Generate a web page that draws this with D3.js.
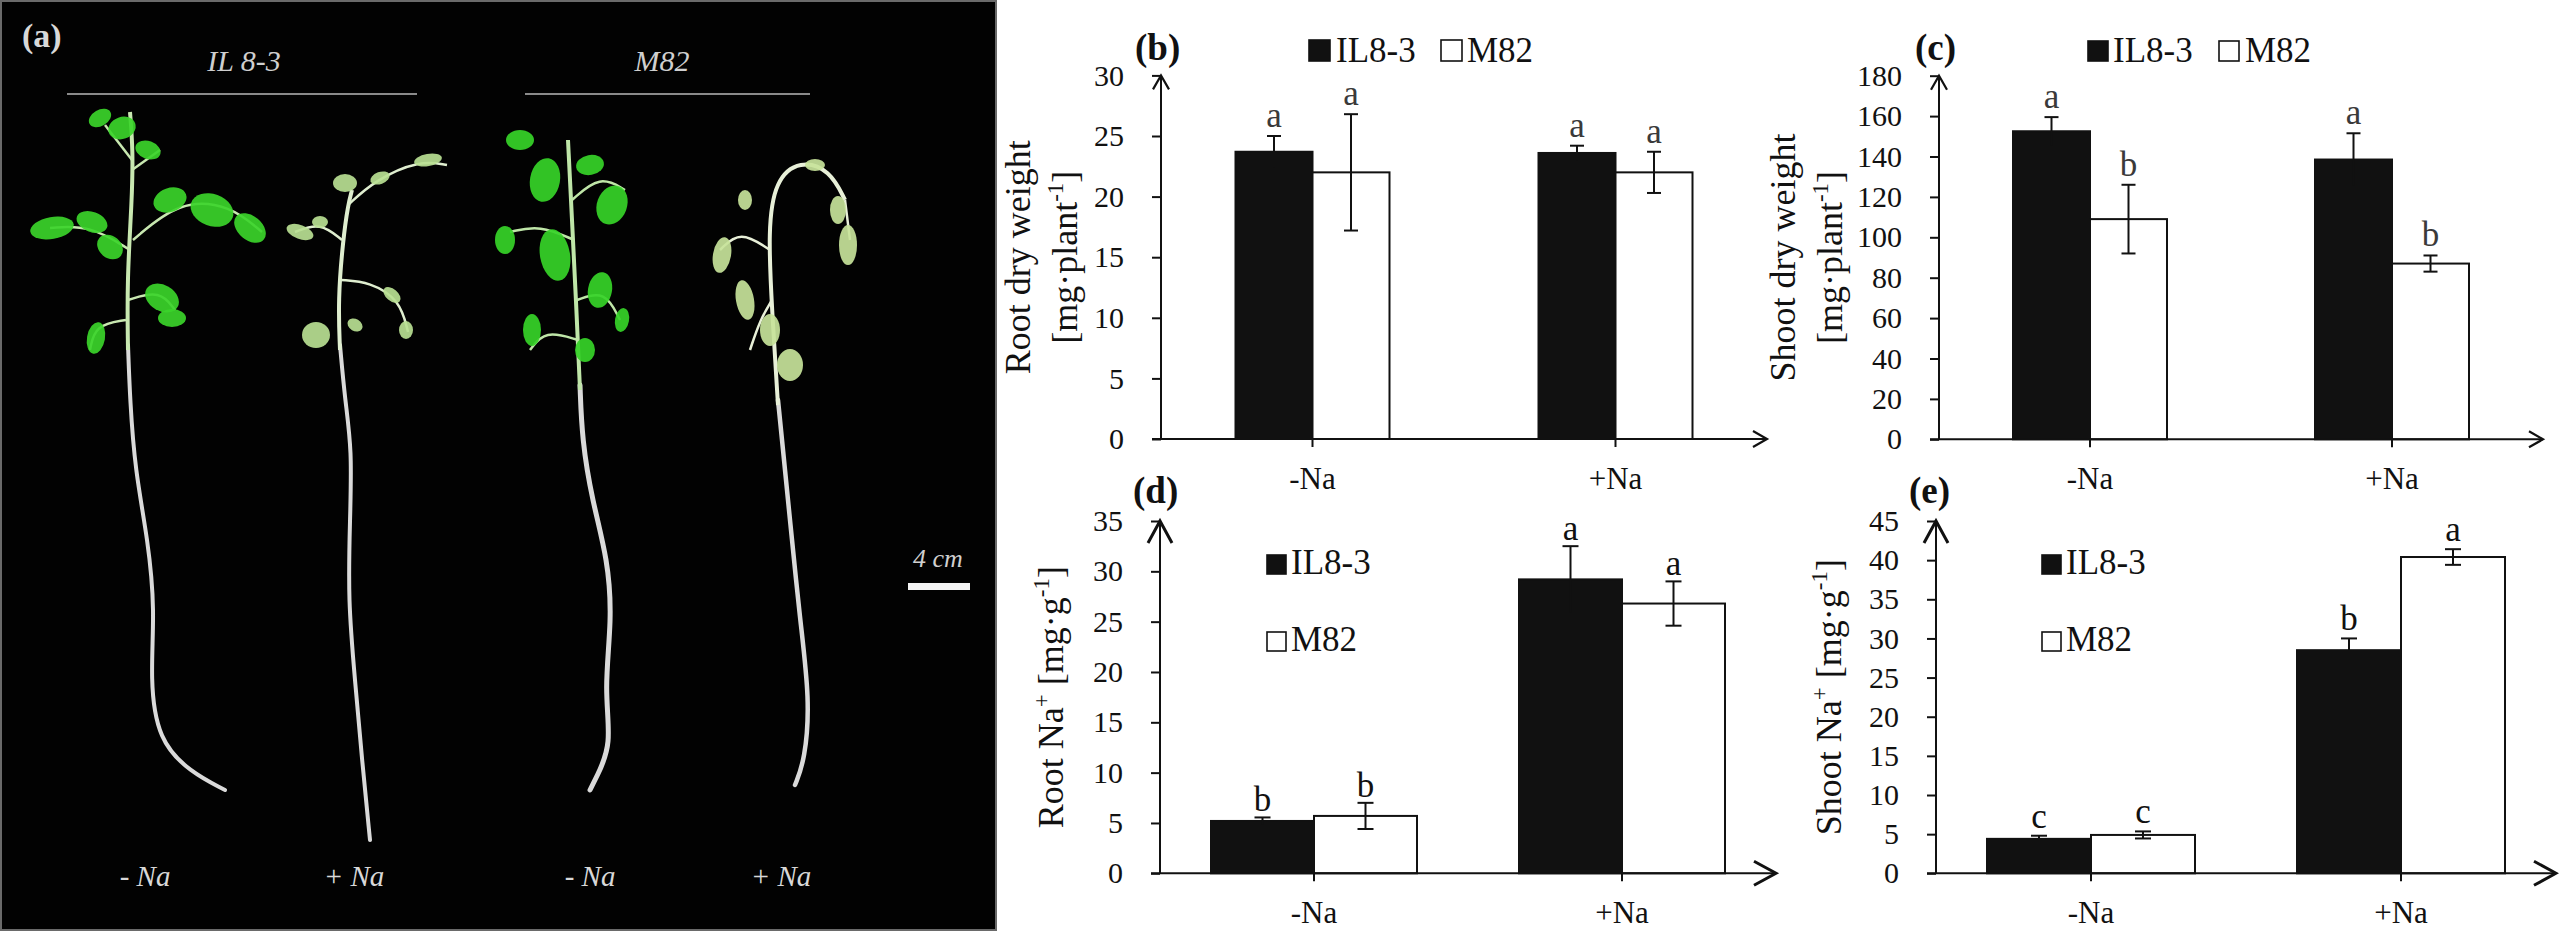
<!DOCTYPE html>
<html><head><meta charset="utf-8">
<script src="https://cdn.jsdelivr.net/npm/d3@7"></script>
<style>
body{margin:0;background:#fff;}
svg{display:block;}
text{font-family:"Liberation Serif","Times New Roman",serif;}
</style>
</head><body>
<svg id="chart" width="2559" height="931"></svg>
<script>
// ---------------- DATA ----------------
const categories = ["-Na", "+Na"];
const series = ["IL8-3", "M82"];

// (b) Root dry weight [mg·plant-1]
const rootDW_IL8_3 = [23.7, 23.6];
const rootDW_M82   = [22.0, 22.0];
const rootDW_err_IL8_3 = [1.3, 0.6];
const rootDW_err_M82   = [4.8, 1.7];
const rootDW_letters_IL8_3 = ["a", "a"];
const rootDW_letters_M82   = ["a", "a"];
const rootDW_ticks = [0, 5, 10, 15, 20, 25, 30];

// (c) Shoot dry weight [mg·plant-1]
const shootDW_IL8_3 = [152.5, 138.5];
const shootDW_M82   = [109, 87];
const shootDW_err_IL8_3 = [7, 13];
const shootDW_err_M82   = [17, 4];
const shootDW_letters_IL8_3 = ["a", "a"];
const shootDW_letters_M82   = ["b", "b"];
const shootDW_ticks = [0, 20, 40, 60, 80, 100, 120, 140, 160, 180];

// (d) Root Na+ [mg·g-1]
const rootNa_IL8_3 = [5.2, 29.2];
const rootNa_M82   = [5.7, 26.8];
const rootNa_err_IL8_3 = [0.35, 3.3];
const rootNa_err_M82   = [1.3, 2.2];
const rootNa_letters_IL8_3 = ["b", "a"];
const rootNa_letters_M82   = ["b", "a"];
const rootNa_ticks = [0, 5, 10, 15, 20, 25, 30, 35];

// (e) Shoot Na+ [mg·g-1]
const shootNa_IL8_3 = [4.4, 28.5];
const shootNa_M82   = [4.9, 40.4];
const shootNa_err_IL8_3 = [0.4, 1.5];
const shootNa_err_M82   = [0.45, 1.0];
const shootNa_letters_IL8_3 = ["c", "b"];
const shootNa_letters_M82   = ["c", "a"];
const shootNa_ticks = [0, 5, 10, 15, 20, 25, 30, 35, 40, 45];

// photo panel labels
const photoGroups = ["IL 8-3", "M82"];
const photoTreatments = ["- Na", "+ Na", "- Na", "+ Na"];
const scaleBarLabel = "4 cm";

// ---------------- LAYOUT ----------------
const svg = d3.select("#chart");
const INK = "#111";
const SERIF = '"Liberation Serif","Times New Roman",serif';

const panels = [
  { label: "(b)", labelX: 1135, labelY: 60,
    vals: [rootDW_IL8_3, rootDW_M82], errs: [rootDW_err_IL8_3, rootDW_err_M82],
    letters: [rootDW_letters_IL8_3, rootDW_letters_M82], ticks: rootDW_ticks,
    xr: [1161, 1767], yr: [439, 75.4], barW: 77, cap: 7, letterGap: 9, letterColor: "#3a3a3a",
    arrowLen: 14, arrowHW: 8, arrowW: 2.2,
    title: [[["Root dry weight"]], [["[mg·plant"], ["-1", true], ["]"]]], titleX: [1030, 1077],
    legend: { mode: "row", x: [1309, 1441], tx: [1336, 1467], y: 40, ty: 62, size: 21 } },
  { label: "(c)", labelX: 1915, labelY: 60,
    vals: [shootDW_IL8_3, shootDW_M82], errs: [shootDW_err_IL8_3, shootDW_err_M82],
    letters: [shootDW_letters_IL8_3, shootDW_letters_M82], ticks: shootDW_ticks,
    xr: [1939, 2543], yr: [439.3, 75.7], barW: 77, cap: 7, letterGap: 9, letterColor: "#3a3a3a",
    arrowLen: 14, arrowHW: 8, arrowW: 2.2,
    title: [[["Shoot dry weight"]], [["[mg·plant"], ["-1", true], ["]"]]], titleX: [1795, 1842],
    legend: { mode: "row", x: [2088, 2219], tx: [2113, 2245], y: 41, ty: 62, size: 20 } },
  { label: "(d)", labelX: 1133, labelY: 503,
    vals: [rootNa_IL8_3, rootNa_M82], errs: [rootNa_err_IL8_3, rootNa_err_M82],
    letters: [rootNa_letters_IL8_3, rootNa_letters_M82], ticks: rootNa_ticks,
    xr: [1160, 1776], yr: [873.3, 521], barW: 103, cap: 8, letterGap: 6, letterColor: INK,
    arrowLen: 22, arrowHW: 12, arrowW: 3,
    title: [[["Root Na"], ["+", true], [" [mg·g"], ["-1", true], ["]"]]], titleX: [1063],
    legend: { mode: "col", x: [1267, 1267], tx: [1291, 1291], y: [555, 632], ty: [574, 651], size: 19 } },
  { label: "(e)", labelX: 1909, labelY: 503,
    vals: [shootNa_IL8_3, shootNa_M82], errs: [shootNa_err_IL8_3, shootNa_err_M82],
    letters: [shootNa_letters_IL8_3, shootNa_letters_M82], ticks: shootNa_ticks,
    xr: [1936, 2556], yr: [873.3, 521], barW: 104, cap: 8, letterGap: 8, letterColor: INK,
    arrowLen: 22, arrowHW: 12, arrowW: 3,
    title: [[["Shoot Na"], ["+", true], [" [mg·g"], ["-1", true], ["]"]]], titleX: [1841],
    legend: { mode: "col", x: [2042, 2042], tx: [2066, 2066], y: [555, 632], ty: [574, 651], size: 19 } }
];

function drawPanel(p) {
  const g = svg.append("g");
  const x0 = d3.scaleBand().domain(categories).range(p.xr).padding(0);
  const x1 = d3.scaleBand().domain(series).range([-p.barW, p.barW]).padding(0);
  const ymax = p.ticks[p.ticks.length - 1];
  const y = d3.scaleLinear().domain([0, ymax]).range(p.yr);
  const axX = p.xr[0], y0 = y(0);

  const rows = [];
  series.forEach((s, si) => categories.forEach((c, ci) => {
    rows.push({ s, c, v: p.vals[si][ci], e: p.errs[si][ci], L: p.letters[si][ci], si });
  }));

  // bars
  g.selectAll("rect.bar").data(rows).join("rect")
    .attr("x", d => x0(d.c) + x0.bandwidth() / 2 + x1(d.s))
    .attr("y", d => y(d.v))
    .attr("width", x1.bandwidth())
    .attr("height", d => y0 - y(d.v))
    .attr("fill", d => d.si === 0 ? INK : "#fff")
    .attr("stroke", INK).attr("stroke-width", 2);

  // error bars
  const cx = d => x0(d.c) + x0.bandwidth() / 2 + x1(d.s) + x1.bandwidth() / 2;
  const eg = g.selectAll("g.err").data(rows).join("g").attr("stroke", INK).attr("stroke-width", 2);
  eg.append("line").attr("x1", cx).attr("x2", cx).attr("y1", d => y(d.v + d.e)).attr("y2", d => y(d.v - d.e));
  eg.append("line").attr("x1", d => cx(d) - p.cap).attr("x2", d => cx(d) + p.cap).attr("y1", d => y(d.v + d.e)).attr("y2", d => y(d.v + d.e));
  eg.filter(d => d.si === 1).append("line").attr("x1", d => cx(d) - p.cap).attr("x2", d => cx(d) + p.cap)
    .attr("y1", d => y(d.v - d.e)).attr("y2", d => y(d.v - d.e));

  // significance letters
  g.selectAll("text.sig").data(rows).join("text")
    .attr("x", cx).attr("y", d => y(d.v + d.e) - p.letterGap)
    .attr("text-anchor", "middle").attr("font-size", 35).attr("fill", p.letterColor)
    .text(d => d.L);

  // y axis ticks
  const ya = g.append("g").attr("transform", `translate(${axX},0)`)
    .call(d3.axisLeft(y).tickValues(p.ticks).tickSize(9).tickPadding(28).tickFormat(d3.format("d")));
  ya.select(".domain").remove();
  ya.selectAll("line").attr("stroke", INK).attr("stroke-width", 2);
  ya.selectAll("text").attr("font-size", 30).attr("fill", INK).attr("font-family", SERIF);

  // x axis ticks
  const xa = g.append("g").attr("transform", `translate(0,${y0})`)
    .call(d3.axisBottom(x0).tickSize(8).tickPadding(20));
  xa.select(".domain").remove();
  xa.selectAll("line").attr("stroke", INK).attr("stroke-width", 2);
  xa.selectAll("text").attr("font-size", 31).attr("fill", INK).attr("font-family", SERIF);

  // axis lines with arrow heads
  const yTop = y(ymax), xEnd = p.xr[1];
  g.append("line").attr("x1", axX).attr("x2", axX).attr("y1", y0).attr("y2", yTop)
    .attr("stroke", INK).attr("stroke-width", 2);
  g.append("line").attr("x1", axX - 9).attr("x2", xEnd).attr("y1", y0).attr("y2", y0)
    .attr("stroke", INK).attr("stroke-width", 2);
  g.append("path").attr("fill", "none").attr("stroke", INK).attr("stroke-width", p.arrowW)
    .attr("d", `M${axX - p.arrowHW},${yTop + p.arrowLen}L${axX},${yTop}L${axX + p.arrowHW},${yTop + p.arrowLen}`);
  g.append("path").attr("fill", "none").attr("stroke", INK).attr("stroke-width", p.arrowW)
    .attr("d", `M${xEnd - p.arrowLen},${y0 - p.arrowHW}L${xEnd},${y0}L${xEnd - p.arrowLen},${y0 + p.arrowHW}`);

  // y axis title (rotated)
  const cy = (y0 + yTop) / 2;
  p.title.forEach((line, li) => {
    const t = g.append("text")
      .attr("transform", `translate(${p.titleX[li]},${cy}) rotate(-90)`)
      .attr("text-anchor", "middle").attr("font-size", 36).attr("fill", INK)
      .style("white-space", "pre");
    let raised = false;
    line.forEach(([s, sup]) => {
      const ts = t.append("tspan").text(s);
      if (sup && !raised) { ts.attr("font-size", 23).attr("dy", -14); raised = true; }
      else if (!sup && raised) { ts.attr("dy", 14); raised = false; }
    });
  });

  // panel label
  g.append("text").attr("x", p.labelX).attr("y", p.labelY)
    .attr("font-size", 37).attr("font-weight", "bold").attr("fill", INK).text(p.label);

  // legend
  const L = p.legend;
  series.forEach((s, si) => {
    const sx = L.x[si], sy = L.mode === "row" ? L.y : L.y[si];
    const tx = L.tx[si], ty = L.mode === "row" ? L.ty : L.ty[si];
    g.append("rect").attr("x", sx).attr("y", sy).attr("width", L.size).attr("height", L.size)
      .attr("fill", si === 0 ? INK : "#fff").attr("stroke", INK).attr("stroke-width", 1.6);
    g.append("text").attr("x", tx).attr("y", ty).attr("font-size", 35).attr("fill", INK).text(s);
  });
}

// ---------------- PHOTO PANEL (illustration) ----------------
function drawPhoto() {
  const g = svg.append("g");
  g.append("rect").attr("x", 1).attr("y", 1).attr("width", 995).attr("height", 929)
    .attr("fill", "#020202").attr("stroke", "#6a6a6a").attr("stroke-width", 2);

  const line = d3.line().curve(d3.curveBasis);
  const plants = [
    { root: [[128,345],[130,400],[135,470],[148,540],[155,610],[150,680],[158,740],[190,772],[225,790]],
      stem: [[128,350],[127,280],[132,200],[133,150],[130,112]],
      branches: [[[130,250],[90,225],[50,228]],[[133,240],[180,200],[230,205],[262,232]],[[128,300],[160,290],[175,310]],[[126,320],[95,325],[90,350]],[[132,160],[105,125]],[[132,170],[160,150]]],
      leaves: [[52,228,22,11,-10],[92,222,16,10,20],[110,247,14,11,40],[170,200,17,12,-20],[212,210,22,16,20],[250,228,18,12,40],[122,128,14,11,-20],[100,118,12,8,-30],[148,150,13,9,20],[162,298,18,13,30],[172,318,14,9,0],[96,338,9,16,10]],
      leafColor: "#3bd42a", stemColor: "#c8e8b0", rootW: 4 },
    { root: [[340,345],[345,400],[352,450],[350,520],[348,600],[355,680],[362,760],[370,840]],
      stem: [[340,350],[338,300],[343,240],[348,205],[352,190]],
      branches: [[[348,205],[375,180],[420,160],[447,165]],[[342,240],[320,222],[295,232]],[[341,280],[370,282],[400,300],[408,332]]],
      leaves: [[345,183,12,9,0],[380,178,10,6,-20],[428,160,14,6,-10],[300,232,14,7,20],[320,222,8,6,0],[392,295,10,6,40],[406,330,7,9,0],[316,335,14,13,0],[355,325,8,6,30]],
      leafColor: "#b8df92", stemColor: "#dfeecf", rootW: 4 },
    { root: [[580,385],[582,440],[592,500],[608,560],[612,620],[604,690],[612,745],[596,778],[590,790]],
      stem: [[580,390],[576,300],[572,220],[568,140]],
      branches: [[[574,240],[540,225],[510,232]],[[572,200],[600,175],[625,190]],[[577,300],[605,290],[620,320]],[[578,340],[545,330],[530,350]]],
      leaves: [[520,140,14,10,0],[545,180,15,22,10],[590,165,14,10,-10],[612,205,15,20,20],[505,240,10,14,0],[555,255,15,26,-10],[600,290,12,18,10],[532,330,9,16,0],[585,350,10,12,0],[622,320,7,12,10]],
      leafColor: "#36d428", stemColor: "#bfe6a8", rootW: 5 },
    { root: [[778,400],[783,450],[790,520],[800,620],[810,700],[805,760],[795,785]],
      stem: [[778,405],[772,310],[768,230],[775,180],[800,160],[830,170],[845,200]],
      branches: [[[770,250],[740,230],[720,250]],[[772,300],[760,320],[750,350]],[[845,200],[850,240]]],
      leaves: [[722,255,9,18,10],[745,300,9,20,-10],[770,330,10,16,0],[790,365,13,16,0],[838,210,8,14,0],[848,245,9,20,0],[815,165,10,6,0],[745,200,7,10,0]],
      leafColor: "#c7e39a", stemColor: "#e8f0d8", rootW: 4.5 }
  ];
  plants.forEach(pl => {
    g.append("path").attr("d", line(pl.root)).attr("fill", "none").attr("stroke", "#f2f2f2")
      .attr("stroke-width", pl.rootW).attr("stroke-linecap", "round").attr("opacity", 0.9);
    pl.branches.forEach(b => g.append("path").attr("d", line(b)).attr("fill", "none")
      .attr("stroke", pl.stemColor).attr("stroke-width", 2.5));
    g.append("path").attr("d", line(pl.stem)).attr("fill", "none").attr("stroke", pl.stemColor).attr("stroke-width", 4);
    pl.leaves.forEach(([cx, cy, rx, ry, a]) => g.append("ellipse")
      .attr("transform", `translate(${cx},${cy}) rotate(${a})`)
      .attr("rx", rx).attr("ry", ry).attr("fill", pl.leafColor).attr("opacity", 0.92));
  });

  // labels
  g.append("text").attr("x", 22).attr("y", 47).attr("font-size", 34).attr("font-weight", "bold")
    .attr("fill", "#d8d8d8").text("(a)");
  const groupX = [244, 662];
  const groupLine = [[67, 417], [525, 810]];
  photoGroups.forEach((t, i) => {
    g.append("text").attr("x", groupX[i]).attr("y", 71).attr("text-anchor", "middle")
      .attr("font-size", 30).attr("font-style", "italic").attr("fill", "#cfcfcf").text(t);
    g.append("line").attr("x1", groupLine[i][0]).attr("x2", groupLine[i][1]).attr("y1", 94).attr("y2", 94)
      .attr("stroke", "#8a8a8a").attr("stroke-width", 2);
  });
  const treatX = [145, 354, 590, 781];
  photoTreatments.forEach((t, i) => {
    g.append("text").attr("x", treatX[i]).attr("y", 886).attr("text-anchor", "middle")
      .attr("font-size", 29).attr("font-style", "italic").attr("fill", "#d8d8d8")
      .style("white-space", "pre").text(t);
  });
  g.append("text").attr("x", 938).attr("y", 567).attr("text-anchor", "middle")
    .attr("font-size", 26).attr("font-style", "italic").attr("fill", "#d0d0d0").text(scaleBarLabel);
  g.append("rect").attr("x", 908).attr("y", 583).attr("width", 62).attr("height", 7).attr("fill", "#f4f4f4");
}

drawPhoto();
panels.forEach(drawPanel);
</script>
</body></html>
